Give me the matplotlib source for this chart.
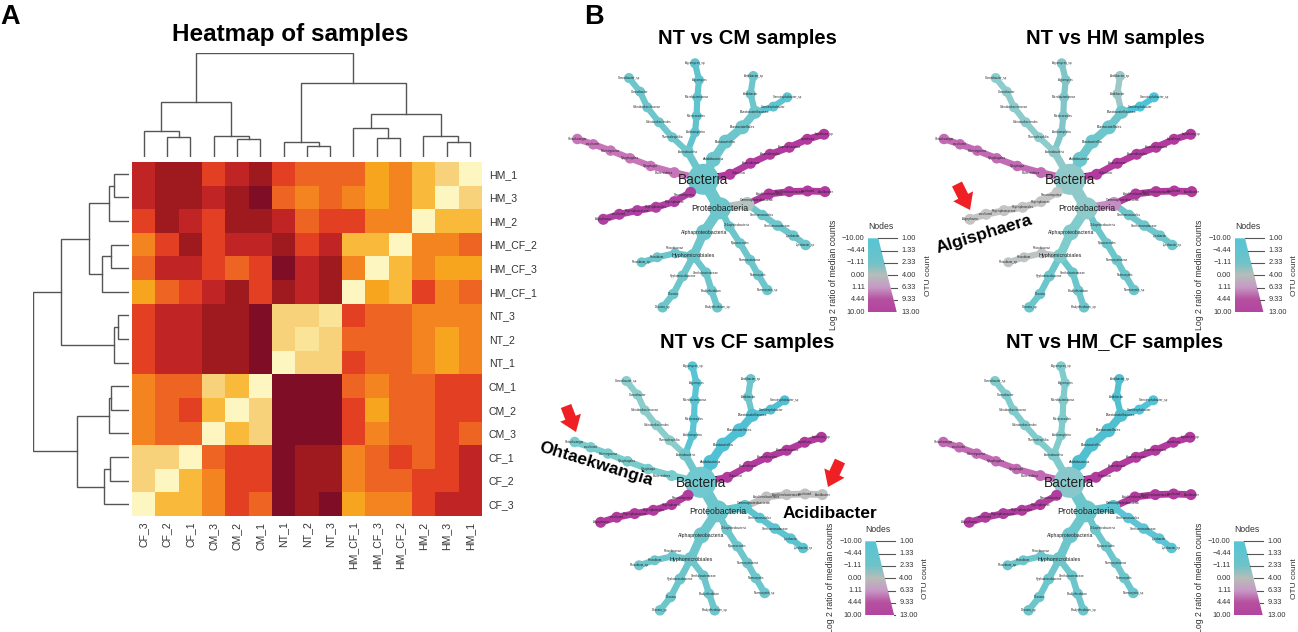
import numpy as np
import matplotlib
matplotlib.use('Agg')
import matplotlib.pyplot as plt
from matplotlib.colors import ListedColormap, LinearSegmentedColormap
from matplotlib.patches import Polygon

plt.rcParams['font.family'] = ['Liberation Sans', 'DejaVu Sans']

W, H = 1298, 632

# --- panel A: heatmap ---
row_labels = ['HM_1', 'HM_3', 'HM_2', 'HM_CF_2', 'HM_CF_3', 'HM_CF_1', 'NT_3', 'NT_2',
              'NT_1', 'CM_1', 'CM_2', 'CM_3', 'CF_1', 'CF_2', 'CF_3']
col_labels = ['CF_3', 'CF_2', 'CF_1', 'CM_3', 'CM_2', 'CM_1', 'NT_1', 'NT_2', 'NT_3',
              'HM_CF_1', 'HM_CF_3', 'HM_CF_2', 'HM_2', 'HM_3', 'HM_1']

# distance class of every cell, 0 = pale (same sample), 10 = darkest
heat_levels = [
    [8, 9, 9, 7, 8, 9, 7, 6, 6, 6, 4, 5, 3, 2, 0],
    [8, 9, 9, 8, 9, 10, 6, 5, 6, 5, 4, 5, 3, 0, 2],
    [7, 9, 8, 7, 9, 9, 8, 6, 7, 7, 5, 5, 0, 3, 3],
    [5, 7, 9, 7, 8, 8, 9, 7, 8, 3, 3, 0, 5, 5, 6],
    [6, 8, 8, 7, 6, 7, 10, 8, 9, 5, 0, 3, 5, 4, 4],
    [4, 6, 7, 8, 9, 7, 9, 8, 9, 0, 4, 3, 7, 5, 6],
    [7, 8, 8, 9, 9, 10, 2, 2, 1, 7, 6, 6, 5, 5, 5],
    [7, 8, 8, 9, 9, 10, 2, 1, 2, 6, 6, 6, 5, 4, 5],
    [7, 8, 8, 9, 9, 10, 0, 2, 2, 7, 6, 6, 5, 4, 5],
    [5, 6, 6, 2, 3, 0, 10, 10, 10, 6, 5, 6, 6, 7, 7],
    [5, 6, 7, 3, 0, 2, 10, 10, 10, 7, 4, 6, 6, 7, 7],
    [5, 6, 6, 0, 3, 2, 10, 10, 10, 7, 5, 6, 6, 7, 6],
    [2, 2, 0, 6, 7, 7, 10, 9, 9, 5, 6, 7, 6, 7, 8],
    [2, 0, 3, 5, 7, 7, 10, 9, 9, 5, 6, 6, 7, 7, 8],
    [0, 3, 3, 5, 7, 6, 10, 9, 10, 4, 5, 5, 7, 8, 8],
]
heat_colors = ['#FEF6C0', '#FAE497', '#F8D27A', '#F9B93A', '#F7A51E', '#F3841F',
               '#EE6523', '#E23F23', '#C02424', '#9F1A1E', '#7E0D25']

# merges: (left, right, height), new clusters are numbered from 15 up
col_merges = [(1, 2, 20), (0, 15, 26), (4, 5, 18), (3, 17, 21), (16, 18, 55), (7, 8, 11),
              (6, 20, 15), (10, 11, 19), (9, 22, 29), (13, 14, 15), (12, 24, 21),
              (23, 25, 43), (21, 26, 74), (19, 27, 104)]
row_merges = [(0, 1, 15), (15, 2, 20), (3, 4, 18), (17, 5, 27), (16, 18, 40), (6, 7, 11),
              (20, 8, 15), (19, 21, 68), (9, 10, 18), (23, 11, 20), (12, 13, 19),
              (25, 14, 25), (24, 26, 52), (22, 27, 96)]

# --- panel B: taxonomy tree, offsets from the root in pixels ---
node_dx = [0,
           -15.7, -31, -44.3, -56, -63.3, -74.3,
           -8.3, -6.7, -6, -4.3, -8.3,
           10, 22.3, 39, 51.7, 47.3, 50, 70, 84,
           26.7, 47.3, 66.7, 86, 104, 120.7,
           -29, -52.7, -73.3, -92.7, -110, -126,
           -12.7, -29, -47.3, -66, -84, -100,
           16.7, 44,
           65.7, 86, 104.3, 121.7,
           59, 74.3, 90, 102.3,
           26, 36.7, 46.7, 55, 64,
           0.7, -10,
           -28.3, -46, -61.7,
           -20.7, -30, -40.7,
           2.7, 8.3, 14]
node_dy = [0,
           -27.7, -42, -57, -72, -87.7, -101.3,
           -47, -63.3, -82, -99.3, -116,
           -20, -37.7, -52, -67, -85.3, -103.3, -72.7, -82,
           -5, -16, -25, -32, -40, -45,
           -6.7, -13.3, -21, -28.7, -35, -40.3,
           13, 22.3, 28, 31.3, 35, 40,
           29, 24.7,
           14.7, 12.3, 11.7, 12.3,
           35.7, 46.3, 56.3, 65.7,
           47.3, 64, 80.7, 95.7, 110.7,
           53, 76.7,
           74, 78, 83,
           96.7, 114.7, 128,
           93.3, 111.3, 128]
node_parent = [-1,
               0, 1, 2, 3, 4, 5,
               1, 7, 8, 9, 10,
               0, 12, 13, 14, 15, 16, 15, 18,
               0, 20, 21, 22, 23, 24,
               0, 26, 27, 28, 29, 30,
               0, 32, 33, 34, 35, 36,
               0, 38,
               39, 40, 41, 42,
               39, 44, 45, 46,
               38, 48, 49, 50, 51,
               38, 53,
               54, 55, 56,
               54, 58, 59,
               54, 61, 62]
node_size = [31,
             12, 10, 10, 10, 10, 10,
             10, 10, 10, 10, 10,
             15, 14, 14, 13, 10, 10, 10, 10,
             11, 11, 11, 11, 11, 11,
             11, 10.5, 10.5, 10.5, 10.5, 10.5,
             11, 11, 11, 11, 11, 11,
             22, 14,
             11, 11, 11, 11,
             10.5, 10.5, 10.5, 10.5,
             10.5, 10.5, 10.5, 10.5, 10.5,
             16, 14,
             10, 10, 10,
             11, 10.5, 10.5,
             10.5, 10.5, 10.5]
node_branch = ['root'] + ['actino'] + ['ul'] * 5 + ['top'] * 5 + ['acid'] * 4 + ['bac_a'] * 2 \
    + ['bac_b'] * 2 + ['ur'] * 6 + ['lu'] * 6 + ['ll'] * 6 + ['prot', 'gam'] + ['gam_up'] * 4 \
    + ['gam_dn'] * 4 + ['pro_d'] * 5 + ['alpha', 'hypho'] + ['hyp_l'] * 3 + ['hyp_d'] * 3 \
    + ['hyp_r'] * 3
# only the bigger names can be read in the picture, the tiny ones are best guesses
node_label = ['Bacteria',
              'Actinobacteria', 'Thermoleophilia', 'Solirubrobacterales', 'Solirubrobacteraceae',
              'Conexibacter', 'Conexibacter_sp',
              'Actinomycetia', 'Micrococcales', 'Microbacteriaceae', 'Agromyces', 'Agromyces_sp',
              'Acidobacteria', 'Blastocatellia', 'Blastocatellales', 'Blastocatellaceae',
              'Aridibacter', 'Aridibacter_sp', 'Stenotrophobacter', 'Stenotrophobacter_sp',
              'Chloroflexi', 'Anaerolineae', 'Anaerolineales', 'Anaerolineaceae', 'Leptolinea',
              'Leptolinea_sp',
              'Bacteroidetes', 'Cytophagia', 'Cytophagales', 'Fulvivirgaceae', 'uncultured',
              'Ohtaekwangia',
              'Planctomycetes', 'Phycisphaerae', 'Phycisphaerales', 'Phycisphaeraceae',
              'uncultured', 'Algisphaera',
              'Proteobacteria', 'Gammaproteobacteria',
              'Acidiferrobacterales', 'Acidiferrobacteraceae', 'uncultured', 'Acidibacter',
              'Xanthomonadales', 'Xanthomonadaceae', 'Lysobacter', 'Lysobacter_sp',
              'Deltaproteobacteria', 'Myxococcales', 'Nannocystaceae', 'Nannocystis',
              'Nannocystis_sp',
              'Alphaproteobacteria', 'Hyphomicrobiales',
              'Rhizobiaceae', 'Rhizobium', 'Rhizobium_sp',
              'Hyphomicrobiaceae', 'Devosia', 'Devosia_sp',
              'Xanthobacteraceae', 'Bradyrhizobium', 'Bradyrhizobium_sp']
label_sizes = {'Bacteria': 9.8, 'Proteobacteria': 6.3, 'Hyphomicrobiales': 3.9,
               'Alphaproteobacteria': 3.7, 'Gammaproteobacteria': 2.4, 'Acidobacteria': 2.5,
               'Blastocatellia': 2.5, 'Blastocatellales': 2.6, 'Blastocatellaceae': 2.7}
# nudges that keep crowded names apart
label_shift = {'Bacteria': (0, 1), 'Bacteroidetes': (-10, 0), 'Chloroflexi': (9, -1),
               'Planctomycetes': (-6, 3), 'Gammaproteobacteria': (9, -4),
               'Deltaproteobacteria': (7, -2), 'Rhizobiaceae': (0, -5)}

panel_titles = ['NT vs CM samples', 'NT vs HM samples', 'NT vs CF samples', 'NT vs HM_CF samples']
panel_root_x = [703.3, 1070, 700.7, 1069.3]
panel_root_y = [179.3, 179.3, 482.3, 482.3]
panel_title_x = [747.5, 1115, 747, 1114.5]
panel_title_y = [38, 38, 342, 342]

teal = '#6CC6CB'
magenta = '#B23A9E'
pink = '#C36AB5'
panel_colors = [
    {'top': '#60C3CE', 'bac_b': '#5CC5D0', 'ur': magenta, 'lu': '#C774B9', 'll': '#B03FA2',
     'gam': '#B3C3C0', 'gam_up': magenta},
    {'root': '#90C9C9', 'actino': '#90C9C9', 'ul': '#8CCCCC', 'top': '#80C6C8', 'prot': '#8FCACA',
     'bac_a': '#9CC8C8', 'bac_b': '#4CC4D8', 'ur': magenta, 'lu': pink, 'll': '#C4C4C4',
     'gam': '#C88CC4', 'gam_up': magenta, 'alpha': '#80CBCB', 'hypho': '#80CBCB',
     'hyp_l': '#BEC4C4'},
    {'root': '#70C8D0', 'ul': '#8ACDCB', 'top': '#58C4D4', 'actino': '#70C8CC', 'acid': '#50C0D4',
     'bac_b': '#50C0D4', 'ur': magenta, 'lu': '#78CCCC', 'll': magenta, 'gam': '#60C4CC',
     'gam_up': '#C0C0C0', 'gam_dn': '#5CC4D0'},
    {'root': '#88C8CC', 'ul': '#80CBCB', 'top': '#80CBCB', 'actino': '#80CBCB', 'acid': '#50BFD0',
     'bac_a': '#50BFD0', 'bac_b': '#50C4D8', 'ur': magenta, 'lu': pink, 'll': '#B03CA0',
     'gam': '#5CC4D0', 'gam_up': magenta, 'gam_dn': '#5CC4D4'},
]

legend_left = ['\u221210.00', '\u22124.44', '\u22121.11', '0.00', '1.11', '4.44', '10.00']
legend_right = ['1.00', '1.33', '2.33', '4.00', '6.33', '9.33', '13.00']
legend_stops = ['#57C5D6', '#62C4D0', '#6FC3C8', '#B6BDB9', '#C79AC6', '#B6509F', '#B3449F']

callout_words = ['Algisphaera', 'Ohtaekwangia', 'Acidibacter']
callout_x = [984, 596, 830]
callout_y = [234, 464, 513]
callout_rot = [17, -17, 0]
arrow_from = [(957, 184), (566, 406), (840, 461)]
arrow_to = [(970, 210), (576, 432), (828, 487)]


def px_axes(fig, x0, y0, x1, y1):
    return fig.add_axes([x0 / W, 1 - y1 / H, (x1 - x0) / W, (y1 - y0) / H])


def dendro_segments(merges, n):
    # position and height of each cluster, then the three sides of each bracket
    pos = {i: float(i) for i in range(n)}
    hgt = {i: 0.0 for i in range(n)}
    segs = []
    for k, (a, b, h) in enumerate(merges):
        segs.append(([pos[a], pos[a], pos[b], pos[b]], [hgt[a], h, h, hgt[b]]))
        pos[n + k] = (pos[a] + pos[b]) / 2
        hgt[n + k] = h
    return segs


fig = plt.figure(figsize=(W / 100, H / 100), dpi=100)

hx0, hx1, hy0, hy1 = 132, 481.7, 162, 516
ax_h = px_axes(fig, hx0, hy0, hx1, hy1)
ax_h.imshow(np.array(heat_levels), cmap=ListedColormap(heat_colors), vmin=-0.5, vmax=10.5,
            aspect='auto', interpolation='nearest')
ax_h.set_xticks(range(15))
ax_h.set_xticklabels(col_labels, rotation=90, fontsize=7.6, color='#333333')
ax_h.set_yticks(range(15))
ax_h.set_yticklabels(row_labels, fontsize=7.6, color='#333333')
ax_h.yaxis.tick_right()
ax_h.tick_params(axis='y', length=0, pad=5)
ax_h.tick_params(axis='x', length=0, pad=4)
for s in ax_h.spines.values():
    s.set_visible(False)

ax_top = px_axes(fig, hx0, 53, hx1, 157)
for xs, ys in dendro_segments(col_merges, 15):
    ax_top.plot(xs, ys, color='#555555', lw=1.0, solid_joinstyle='miter')
ax_top.set_xlim(-0.5, 14.5)
ax_top.set_ylim(0, 104)
ax_top.axis('off')

ax_left = px_axes(fig, 33, hy0, 129, hy1)
for xs, ys in dendro_segments(row_merges, 15):
    ax_left.plot(ys, xs, color='#555555', lw=1.0, solid_joinstyle='miter')
ax_left.set_ylim(14.5, -0.5)
ax_left.set_xlim(96, 0)
ax_left.axis('off')

# everything else lives on one overlay in pixel units
ax = fig.add_axes([0, 0, 1, 1])
ax.patch.set_alpha(0)
ax.axis('off')

ax.text(0, 24, 'A', fontsize=19.5, fontweight='bold', ha='left', va='baseline')
ax.text(584, 24, 'B', fontsize=19.5, fontweight='bold', ha='left', va='baseline')
ax.text(290.5, 34, 'Heatmap of samples', fontsize=17.5, fontweight='bold', ha='center', va='center')

legend_cmap = LinearSegmentedColormap.from_list('otu', legend_stops)
gradient = np.linspace(0, 1, 200).reshape(-1, 1)

for p in range(4):
    rx, ry = panel_root_x[p], panel_root_y[p]
    cols = panel_colors[p]
    ax.text(panel_title_x[p], panel_title_y[p], panel_titles[p], fontsize=14.6,
            fontweight='bold', ha='center', va='center')

    for i, par in enumerate(node_parent):
        if par < 0:
            continue
        ax.plot([rx + node_dx[par], rx + node_dx[i]], [ry + node_dy[par], ry + node_dy[i]],
                color=cols.get(node_branch[i], teal), lw=min(node_size[i] * 0.62, 12) * 0.72,
                solid_capstyle='round', zorder=2)
    ax.scatter([rx + d for d in node_dx], [ry + d for d in node_dy],
               s=[(d * 0.72) ** 2 for d in node_size],
               c=[cols.get(b, teal) for b in node_branch], linewidths=0, zorder=3)
    for i, name in enumerate(node_label):
        sx, sy = label_shift.get(name, (0, 0))
        ax.text(rx + node_dx[i] + sx, ry + node_dy[i] + sy, name,
                fontsize=label_sizes.get(name, 2.1), ha='center', va='center',
                color='#222222', zorder=4)

    # gradient wedge legend
    lx0 = rx + 164.5
    ly0, ly1 = ry + 59, ry + 133
    wx0, wx1 = lx0 + 10.5, lx0 + 29
    im = ax.imshow(gradient, cmap=legend_cmap, extent=(lx0, lx0 + 30, ly1, ly0), aspect='auto',
                   zorder=2)
    wedge = Polygon([(lx0, ly0), (wx0, ly0), (wx1, ly1), (lx0, ly1)], closed=True,
                    transform=ax.transData, facecolor='none', edgecolor='none')
    ax.add_patch(wedge)
    im.set_clip_path(wedge)
    for k in range(7):
        yy = ly0 + (ly1 - ly0) * k / 6
        ax.plot([wx0 + (wx1 - wx0) * k / 6, wx1 + 0.5], [yy, yy], color='#555555', lw=0.8, zorder=3)
        ax.text(lx0 - 3, yy, legend_left[k], fontsize=5.3, ha='right', va='center', color='#333333')
        ax.text(lx0 + 34, yy, legend_right[k], fontsize=5.3, ha='left', va='center', color='#333333')
    ax.text(lx0 + 13, ly0 - 11.5, 'Nodes', fontsize=6.2, ha='center', va='center', color='#333333')
    ax.text(lx0 - 34.5, ly0 + 37, 'Log 2 ratio of median counts', fontsize=6.3, rotation=90,
            ha='center', va='center', color='#333333')
    ax.text(lx0 + 60.5, ly0 + 37, 'OTU count', fontsize=6.0, rotation=90, ha='center', va='center',
            color='#333333')

for word, x, y, rot in zip(callout_words, callout_x, callout_y, callout_rot):
    ax.text(x, y, word, fontsize=12.5, fontweight='bold', rotation=rot, ha='center', va='center',
            rotation_mode='anchor', zorder=6)
for a, b in zip(arrow_from, arrow_to):
    ax.annotate('', xy=b, xytext=a, zorder=6,
                arrowprops=dict(width=8, headwidth=16, headlength=11, facecolor='#EE2024',
                                edgecolor='none', shrink=0))

ax.set_xlim(0, W)
ax.set_ylim(H, 0)

fig.savefig('out.png', dpi=100)
